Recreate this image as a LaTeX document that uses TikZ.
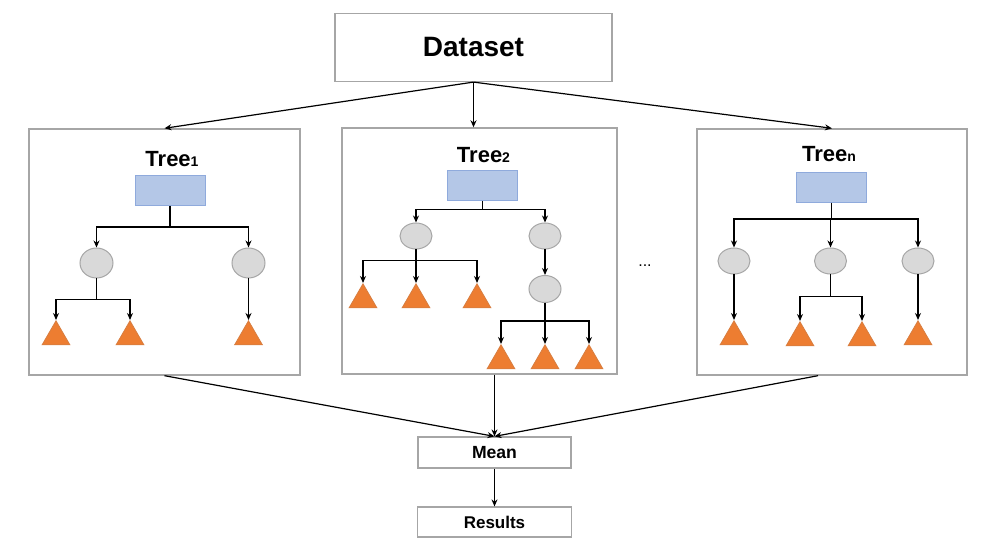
\documentclass[tikz,border=0pt]{standalone}
\usepackage{fontspec}
\setsansfont{Liberation Sans}
\usetikzlibrary{arrows.meta,positioning,shapes.geometric}

\definecolor{panelgray}{HTML}{A6A6A6}
\definecolor{rootblue}{HTML}{B4C7E7}
\definecolor{rootedge}{HTML}{8FAADC}
\definecolor{splitgray}{HTML}{D9D9D9}
\definecolor{leaforange}{HTML}{ED7D31}

\newcommand{\treename}[1]{Tree{\fontsize{7}{8}\selectfont #1}}

\tikzset{
  panel/.style={draw=panelgray, line width=0.7pt, inner sep=0pt},
  box/.style={draw=panelgray, line width=0.6pt, inner sep=0pt},
  rootbox/.style={draw=rootedge, fill=rootblue, line width=0.5pt, minimum width=35pt, minimum height=15pt, inner sep=0pt},
  split/.style={ellipse, draw=panelgray, fill=splitgray, line width=0.5pt, inner sep=0pt},
  leaf/.style={regular polygon, regular polygon sides=3, fill=leaforange, draw=leaforange!80!gray, line width=0.4pt, minimum size=16pt, inner sep=0pt, anchor=north},
  tip/.style={-{Stealth[length=3.5pt,width=3pt]}},
  conn/.style={line width=0.6pt, black},
}

\begin{document}
\begin{tikzpicture}[x=0.5pt, y=-0.5pt, font=\sffamily\bfseries]
    \useasboundingbox (0,0) rectangle (982,555);

    % Dataset and the three tree panels
    \node[box, minimum width=138.5pt, minimum height=34pt, font=\sffamily\bfseries\fontsize{14}{16}\selectfont] (ds) at (473.5,47.5) {Dataset};
    \node[panel, minimum width=135.5pt, minimum height=123pt] (p1) at (164.5,252) {};
    \node[panel, minimum width=137.5pt, minimum height=123pt] (p2) at (479.5,251) {};
    \node[panel, minimum width=135pt, minimum height=123pt] (p3) at (832,252) {};

    \draw[conn, tip] (ds.south) -- (p1.north);
    \draw[conn, tip] (ds.south) -- (ds.south |- p2.north);
    \draw[conn, tip] (ds.south) -- (p3.north);

    % Tree 1
    \node[font=\sffamily\bfseries\fontsize{11}{13}\selectfont] (n1) at (172,159) {\treename{1}};
    \node[rootbox] (r1) at (170,190.5) {};
    \node[split, minimum width=16.5pt, minimum height=15pt] (c11) at (96.5,263) {};
    \node[split, minimum width=16.5pt, minimum height=15pt] (c12) at (248.5,263) {};
    \node[leaf] (t11) at (56,320) {};
    \node[leaf] (t12) at (130,320) {};
    \node[leaf] (t13) at (248.5,320) {};
    \draw[conn, tip] (r1.south) -- ++(0,21) -| (c11.north);
    \draw[conn, tip] (r1.south) -- ++(0,21) -| (c12.north);
    \draw[conn, tip] (c11.south) -- ++(0,21) -| (t11.north);
    \draw[conn, tip] (c11.south) -- ++(0,21) -| (t12.north);
    \draw[conn, tip] (c12.south) -- (t13.north);

    % Tree 2
    \node[font=\sffamily\bfseries\fontsize{11}{13}\selectfont] (n2) at (483.5,155) {\treename{2}};
    \node[rootbox] (r2) at (482.5,186) {};
    \node[split, minimum width=16pt, minimum height=13pt] (c21) at (416,236) {};
    \node[split, minimum width=16pt, minimum height=13pt] (c22) at (545,236) {};
    \node[split, minimum width=16pt, minimum height=13.5pt] (c23) at (545,289) {};
    \node[leaf] (t21) at (363,283) {};
    \node[leaf] (t22) at (416,283) {};
    \node[leaf] (t23) at (477,283) {};
    \node[leaf] (t24) at (501,344) {};
    \node[leaf] (t25) at (545,344) {};
    \node[leaf] (t26) at (589,344) {};
    \draw[conn, tip] (r2.south) -- ++(0,8) -| (c21.north);
    \draw[conn, tip] (r2.south) -- ++(0,8) -| (c22.north);
    \draw[conn, tip] (c21.south) -- ++(0,11) -| (t21.north);
    \draw[conn, tip] (c21.south) -- ++(0,11) -| (t22.north);
    \draw[conn, tip] (c21.south) -- ++(0,11) -| (t23.north);
    \draw[conn, tip] (c22.south) -- (c23.north);
    \draw[conn, tip] (c23.south) -- ++(0,18) -| (t24.north);
    \draw[conn, tip] (c23.south) -- ++(0,18) -| (t25.north);
    \draw[conn, tip] (c23.south) -- ++(0,18) -| (t26.north);

    % Tree n
    \node[font=\sffamily\bfseries\fontsize{11}{13}\selectfont] (n3) at (829,154) {\treename{n}};
    \node[rootbox] (r3) at (831.5,187.5) {};
    \node[split, minimum width=16pt, minimum height=13pt] (c31) at (734,261) {};
    \node[split, minimum width=16pt, minimum height=13pt] (c32) at (830.5,261) {};
    \node[split, minimum width=16pt, minimum height=13pt] (c33) at (918,261) {};
    \node[leaf] (t31) at (734,320) {};
    \node[leaf] (t32) at (800,321) {};
    \node[leaf] (t33) at (862,321) {};
    \node[leaf] (t34) at (918,320) {};
    \draw[conn, tip] (r3.south) -- ++(0,16) -| (c31.north);
    \draw[conn, tip] (r3.south) -- ++(0,16) -| (c32.north);
    \draw[conn, tip] (r3.south) -- ++(0,16) -| (c33.north);
    \draw[conn, tip] (c31.south) -- (t31.north);
    \draw[conn, tip] (c32.south) -- ++(0,22) -| (t32.north);
    \draw[conn, tip] (c32.south) -- ++(0,22) -| (t33.north);
    \draw[conn, tip] (c33.south) -- (t34.north);

    \node[font=\sffamily\fontsize{8}{9}\selectfont] (dots) at (645,266) {...};

    % Mean and results
    \node[box, minimum width=76.5pt, minimum height=15.5pt, font=\sffamily\bfseries\fontsize{8.8}{10}\selectfont] (mean) at (494.5,452.5) {Mean};
    \node[box, minimum width=77pt, minimum height=15pt, font=\sffamily\bfseries\fontsize{8.5}{10}\selectfont] (res) at (494.5,522) {Results};

    \draw[conn, tip] (p1.south) -- (mean.north);
    \draw[conn, tip] (p2.south -| mean.north) -- (mean.north);
    \draw[conn, tip] ([xshift=-7pt]p3.south) -- (mean.north);
    \draw[conn, tip] (mean.south) -- (res.north);
\end{tikzpicture}
\end{document}
